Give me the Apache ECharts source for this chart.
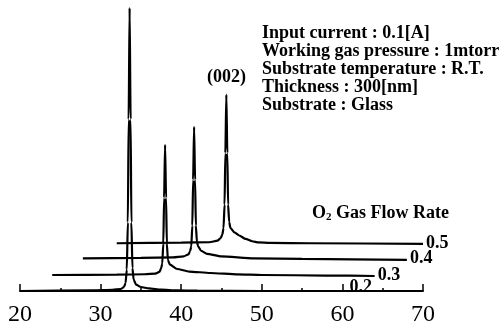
<!DOCTYPE html>
<html>
<head>
<meta charset="utf-8">
<script src="https://cdn.jsdelivr.net/npm/echarts@6/dist/echarts.min.js"></script>
<style>html,body{margin:0;padding:0;background:#fff}#c{width:502px;height:328px}</style>
</head>
<body>
<div id="c"></div>
<script>
// O2 gas flow rates (series names)
var flowRates = ['0.2', '0.3', '0.4', '0.5'];
// vertical stacking offsets of each pattern (a.u.)
var offsets = [0, 56, 114, 167];
// XRD patterns: [2theta, intensity (a.u.)]
var pattern02 = [[20,0],[29,2],[31.5,4],[32.5,7],[32.9,14],[33.1,28],[33.25,75],[33.38,240],[33.48,600],[33.6,990],[33.72,600],[33.82,240],[33.95,80],[34.1,40],[34.4,22],[35,14],[36,9],[37.5,5],[39.5,2],[42,1],[50,0],[60,0]];
var pattern03 = [[24,0],[32,1],[35.5,2.5],[36.8,5],[37.3,11],[37.5,22],[37.65,40],[37.78,110],[37.88,270],[38.0,455],[38.12,270],[38.22,110],[38.35,52],[38.6,36],[39.5,21],[41,12],[43.6,7],[47,2],[50,0],[58,-2],[64,-3.5]];
var pattern04 = [[27.8,0],[35,2],[39,3.5],[40.3,7],[40.9,14],[41.1,25],[41.25,42],[41.38,115],[41.48,275],[41.6,460],[41.72,275],[41.82,115],[41.95,58],[42.1,42],[42.5,26],[43.2,16],[45,7],[49,0],[55,-2],[68,-5]];
var pattern05 = [[32,0],[40,2],[43.5,3.5],[44.5,9],[44.9,18],[45.1,30],[45.25,52],[45.38,135],[45.48,315],[45.6,520],[45.72,315],[45.82,135],[45.95,75],[46.1,54],[46.6,38],[47.2,27],[48.0,15],[48.8,7],[49.6,3],[51,1],[56,0],[70,-2.5]];
var patterns = [pattern02, pattern03, pattern04, pattern05];
var xTicks = [20, 30, 40, 50, 60, 70];
var conditions = ['Input current : 0.1[A]', 'Working gas pressure : 1mtorr', 'Substrate temperature : R.T.', 'Thickness : 300[nm]', 'Substrate : Glass'];

var serif = '"Liberation Serif", "Times New Roman", serif';
var series = patterns.map(function (p, i) {
  return {
    name: flowRates[i],
    type: 'line',
    symbol: 'none',
    smooth: 0.2,
    smoothMonotone: 'x',
    lineStyle: {color: '#000', width: 2.2},
    data: p.map(function (d) { return [d[0], d[1] + offsets[i]]; }),
    endLabel: {show: true, formatter: '{a}', distance: i === 0 ? 7 : 3, fontFamily: serif, fontWeight: 'bold', fontSize: 18, color: '#000', offset: [0, i === 0 ? -4 : -1]}
  };
});

var chart = echarts.init(document.getElementById('c'));
chart.setOption({
  animation: false,
  grid: {left: 20, right: 79, top: 5, bottom: 37},
  xAxis: {
    type: 'value', min: 20, max: 70, interval: 10,
    axisLine: {lineStyle: {color: '#000', width: 2}},
    axisTick: {inside: true, length: 7, lineStyle: {color: '#000', width: 1.5}},
    minorTick: {show: true, splitNumber: 2, length: 3, lineStyle: {color: '#000', width: 1.5}},
    splitLine: {show: false},
    axisLabel: {margin: 12, fontFamily: serif, fontSize: 24, color: '#000',
      formatter: function (v) { return xTicks.indexOf(v) >= 0 ? String(v) : ''; }}
  },
  yAxis: {type: 'value', min: 0, max: 1000, show: false},
  series: series,
  graphic: [
    {type: 'text', left: 262, top: 24, style: {text: conditions.join('\n'), font: 'bold 18px ' + serif, lineHeight: 18, fill: '#000'}},
    {type: 'text', left: 207, top: 68, style: {text: '(002)', font: 'bold 18px ' + serif, fill: '#000'}},
    {type: 'text', left: 312, top: 204, style: {
      text: '{a|O}{s|2}{a| Gas Flow Rate}',
      rich: {a: {font: 'bold 18px ' + serif, fill: '#000'}, s: {font: 'bold 11px ' + serif, fill: '#000', padding: [8, 0, 0, 0]}}
    }}
  ]
});
</script>
</body>
</html>
